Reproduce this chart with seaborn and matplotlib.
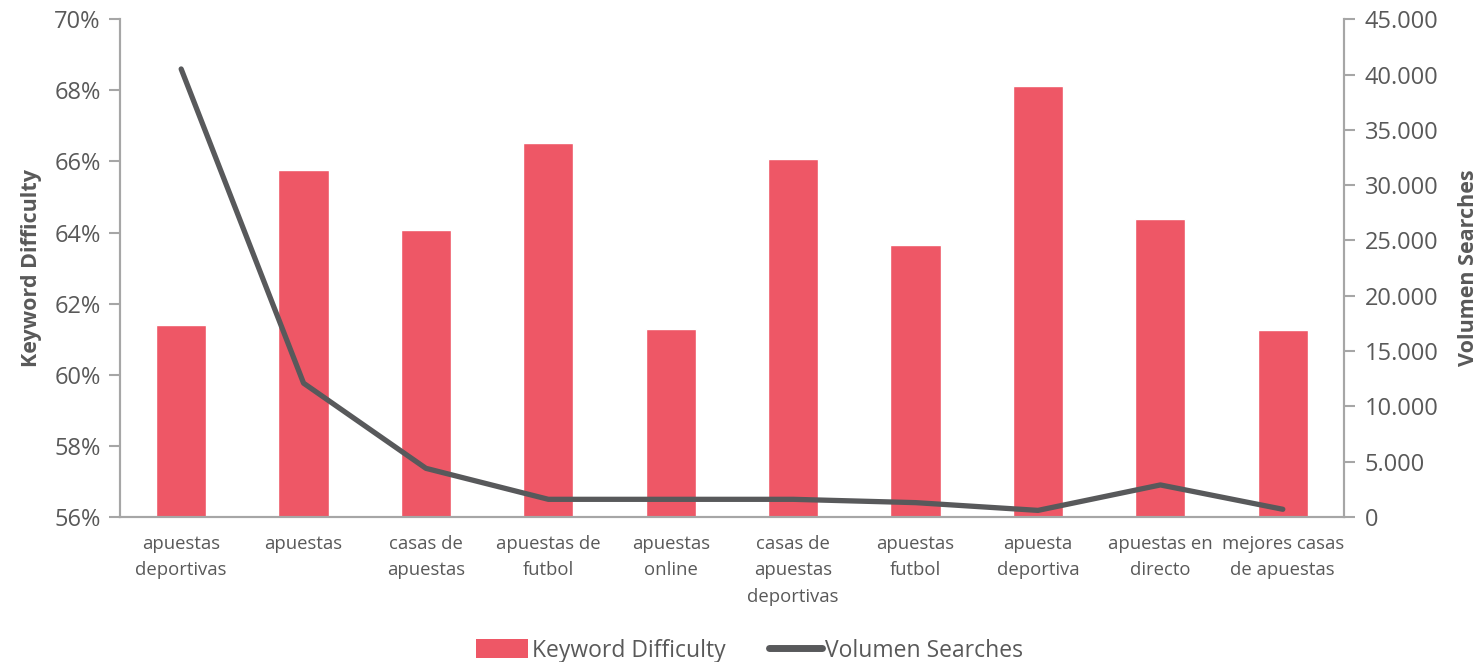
import numpy as np
import pandas as pd
import matplotlib
matplotlib.use("Agg")
import matplotlib.pyplot as plt
import seaborn as sns
from matplotlib.ticker import FuncFormatter, MultipleLocator
from matplotlib.patches import Patch
from matplotlib.lines import Line2D

keywords = ["apuestas\ndeportivas", "apuestas", "casas de\napuestas", "apuestas de\nfutbol",
            "apuestas\nonline", "casas de\napuestas\ndeportivas", "apuestas\nfutbol",
            "apuesta\ndeportiva", "apuestas en\ndirecto", "mejores casas\nde apuestas"]
difficulty = [61.40, 65.75, 64.06, 66.52, 61.29, 66.06, 63.66, 68.13, 64.38, 61.25]
volume = [40500, 12100, 4400, 1600, 1600, 1600, 1300, 600, 2900, 700]

df = pd.DataFrame({"keyword": keywords, "difficulty": difficulty, "volume": volume})

bar_color = "#EE5766"
line_color = "#58595B"
axis_color = "#A6A6A6"
text_color = "#595959"

sns.set_style("white")
plt.rcParams["font.family"] = ["Open Sans", "DejaVu Sans"]

fig = plt.figure(figsize=(14.81, 6.62), dpi=100)
ax = fig.add_axes([0.081, 0.219, 0.8265, 0.752])

sns.barplot(data=df, x="keyword", y="difficulty", color=bar_color, width=0.41,
            saturation=1, ax=ax)
ax.set_ylim(56, 70)
ax.yaxis.set_major_locator(MultipleLocator(2))
ax.yaxis.set_major_formatter(FuncFormatter(lambda v, p: f"{v:.0f}%"))

ax2 = ax.twinx()
sns.pointplot(data=df, x="keyword", y="volume", color=line_color, markers="",
              linewidth=3.8, ax=ax2)
ax2.set_ylim(0, 45000)
ax2.yaxis.set_major_locator(MultipleLocator(5000))
ax2.yaxis.set_major_formatter(FuncFormatter(lambda v, p: f"{int(v):,}".replace(",", ".")))
ax.set_xlim(-0.5, len(keywords) - 0.5)

for a in (ax, ax2):
    for s in a.spines.values():
        s.set_color(axis_color)
        s.set_linewidth(1.5)
    a.spines["top"].set_visible(False)
    a.set_xlabel("")

ax.tick_params(axis="y", direction="out", length=8, width=1.5, color=axis_color,
               labelsize=17, labelcolor=text_color, pad=6, left=True)
ax2.tick_params(axis="y", direction="out", length=8, width=1.5, color=axis_color,
                labelsize=17, labelcolor=text_color, pad=7, right=True)
ax.tick_params(axis="x", length=0, labelsize=13.3, labelcolor=text_color, pad=13)
for t in ax.get_xticklabels():
    t.set_linespacing(1.6)
    t.set_verticalalignment("top")

ax.set_ylabel("Keyword Difficulty", fontsize=15.5, fontweight="bold", color=text_color, labelpad=9)
ax2.set_ylabel("Volumen Searches", fontsize=15.5, fontweight="bold", color=text_color, labelpad=14)

handles = [Patch(facecolor=bar_color, edgecolor="none"),
           Line2D([0], [0], color=line_color, lw=5, solid_capstyle="round")]
fig.legend(handles, ["Keyword Difficulty", "Volumen Searches"], loc="lower center",
           bbox_to_anchor=(0.506, -0.032), ncol=2, frameon=False, fontsize=16.5,
           handlelength=2.3, handleheight=0.85, handletextpad=0.15, columnspacing=1.9,
           labelcolor=text_color)

fig.savefig("out.png", dpi=100)
